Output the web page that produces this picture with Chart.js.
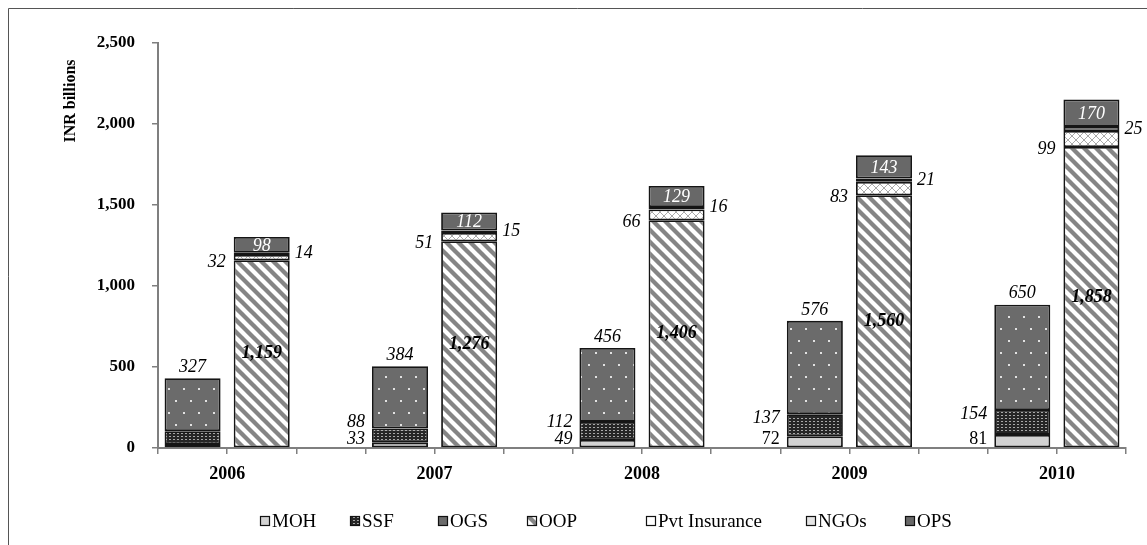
<!DOCTYPE html>
<html><head><meta charset="utf-8">
<script src="https://cdn.jsdelivr.net/npm/chart.js@4.4.0/dist/chart.umd.min.js"></script>
<style>html,body{margin:0;padding:0;background:#fff;}#wrap{position:relative;width:1147px;height:545px;}</style>
</head><body><div id="wrap"><canvas id="c" width="1147" height="545"></canvas></div>
<script>
// ---- data (INR billions) ----
const years   = ['2006','2007','2008','2009','2010'];
const moh     = [24, 33, 49, 72, 81];
const ssf     = [80, 88, 112, 137, 154];
const ogs     = [327, 384, 456, 576, 650];
const oop     = [1159, 1276, 1406, 1560, 1858];
const pvtIns  = [32, 51, 66, 83, 99];
const ngos    = [14, 15, 16, 21, 25];
const ops     = [98, 112, 129, 143, 170];
const seriesNames = ['MOH','SSF','OGS','OOP','Pvt Insurance','NGOs','OPS'];
const yTicks  = [0, 500, 1000, 1500, 2000, 2500];
const yTitle  = 'INR billions';

const SERIF = '"Liberation Serif","Times New Roman",serif';
const NSLOT = years.length * 3 - 1;
const slotLabels = Array.from({length: NSLOT}, (_, k) => (k % 3 === 0 ? years[k/3] : ''));
function slotData(arr, off){
  const d = new Array(NSLOT).fill(null);
  arr.forEach((v, i) => { d[3*i + off] = v; });
  return d;
}

// ---- patterns ----
function mk(w, h, fn){ const c = document.createElement('canvas'); c.width = w; c.height = h; const x = c.getContext('2d'); fn(x, w, h); return document.getElementById('c').getContext('2d').createPattern(c, 'repeat'); }
const pMOH = '#d2d2d2';
const pSSF = mk(4, 3, (x, w, h) => { x.fillStyle = '#262626'; x.fillRect(0,0,w,h); x.fillStyle = '#a8a8a8'; x.fillRect(1,1,2,1); });
const pOGS = mk(15, 24, (x, w, h) => { x.fillStyle = '#6b6b6b'; x.fillRect(0,0,w,h); x.fillStyle = '#e2e2e2'; x.fillRect(3,4,2,2); x.fillRect(10,16,2,2); });
const pOOP = mk(12, 12, (x, w, h) => { x.fillStyle = '#fff'; x.fillRect(0,0,w,h); x.strokeStyle = '#858585'; x.lineWidth = 4.3;
  for (const k of [-12, 0, 12]) { x.beginPath(); x.moveTo(k-2, -2); x.lineTo(k+14, 14); x.stroke(); } });
const pPVT = mk(8, 8, (x, w, h) => { x.fillStyle = '#fff'; x.fillRect(0,0,w,h); x.strokeStyle = '#a9a9a9'; x.lineWidth = 1;
  x.beginPath(); x.moveTo(0,0); x.lineTo(8,8); x.moveTo(8,0); x.lineTo(0,8); x.stroke(); });
const pNGO = '#f3f3f3';
const pOPS = '#686868';
const fills = [pMOH, pSSF, pOGS, pOOP, pPVT, pNGO, pOPS];
const legendFills = [pMOH, pSSF, '#6b6b6b', pOOP, '#ffffff', '#e4e4e4', pOPS];
const seriesVals = [moh, ssf, ogs, oop, pvtIns, ngos, ops];
const seriesOff = [0, 0, 0, 1, 1, 1, 1];

const datasets = seriesNames.map((n, k) => ({
  label: n, data: slotData(seriesVals[k], seriesOff[k]),
  backgroundColor: fills[k], borderColor: '#151515', borderWidth: 1.8, borderSkipped: false,
  barPercentage: 0.81, categoryPercentage: 1
}));

const fmt = v => Number(v).toLocaleString('en-US');

const framePlugin = {
  id: 'frame',
  beforeDraw(chart){ const c = chart.ctx; c.save(); c.fillStyle = '#fff'; c.fillRect(0,0,chart.width,chart.height);
    c.strokeStyle = '#555'; c.lineWidth = 1; c.beginPath(); c.moveTo(8.5, 545); c.lineTo(8.5, 8.5); c.lineTo(1147, 8.5); c.stroke(); c.restore(); },
  afterDraw(chart){
    const c = chart.ctx; c.save();
    c.translate(71, 101); c.rotate(-Math.PI/2); c.fillStyle = '#000'; c.font = 'bold 16px ' + SERIF;
    c.textAlign = 'center'; c.textBaseline = 'middle'; c.fillText(yTitle, 0, 0);
    c.restore();
    const lx = [260, 350, 438, 527, 646, 806, 905];
    c.save(); c.textBaseline = 'middle'; c.textAlign = 'left'; c.font = '19px ' + SERIF;
    seriesNames.forEach((n, k) => {
      const x = lx[k], y = 521;
      c.fillStyle = legendFills[k]; c.fillRect(x, y-5, 10, 10);
      c.strokeStyle = '#111'; c.lineWidth = 1.2; c.strokeRect(x+0.5, y-4.5, 9, 9);
      c.fillStyle = '#000'; c.fillText(n, x + 12, y + 1);
    });
    c.restore();
  }
};

const labelPlugin = {
  id: 'vlabels',
  afterDatasetsDraw(chart){
    const c = chart.ctx;
    const el = (d, slot) => chart.getDatasetMeta(d).data[slot].getProps(['x','y','base','width'], true);
    c.save(); c.textBaseline = 'middle';
    const it = '18px ' + SERIF;
    years.forEach((yr, i) => {
      const a = 3*i, b = 3*i + 1;
      const m = el(0,a), s = el(1,a), g = el(2,a), o = el(3,b), p = el(4,b), n = el(5,b), q = el(6,b);
      const leftA = m.x - m.width/2, leftB = o.x - o.width/2, rightB = o.x + o.width/2;
      c.fillStyle = '#000';
      if (i > 0) {
        c.textAlign = 'right';
        c.font = (i < 3 ? 'italic ' : '') + it; c.fillText(fmt(moh[i]), leftA - 7, m.base - 8);
        c.font = 'italic ' + it; c.fillText(fmt(ssf[i]), leftA - 7, Math.min(s.y + 4, m.base - 25));
      }
      c.textAlign = 'center'; c.font = 'italic ' + it; c.fillText(fmt(ogs[i]), g.x, g.y - 11);
      c.font = 'italic bold ' + it; c.fillText(fmt(oop[i]), o.x, (o.y + o.base)/2);
      c.textAlign = 'right'; c.font = 'italic ' + it; c.fillText(fmt(pvtIns[i]), leftB - 8, p.base + 2);
      c.textAlign = 'left'; c.fillText(fmt(ngos[i]), rightB + 5, n.base - 2);
      c.textAlign = 'center'; c.fillStyle = '#fff'; c.fillText(fmt(ops[i]), q.x, (q.y + q.base)/2 + 1);
    });
    c.restore();
  }
};

new Chart(document.getElementById('c'), {
  type: 'bar',
  data: { labels: slotLabels, datasets },
  options: {
    responsive: false, animation: false, devicePixelRatio: 1,
    layout: { padding: { left: 0, right: 21, top: 43, bottom: 51 } },
    plugins: { legend: { display: false }, tooltip: { enabled: false } },
    scales: {
      x: { type: 'category', stacked: true, offset: true,
        grid: { display: true, offset: true, drawOnChartArea: false, drawTicks: true, tickLength: 6, color: '#7f7f7f', lineWidth: 1.5 },
        border: { display: true, color: '#7f7f7f', width: 2 },
        ticks: { display: true, autoSkip: false, maxRotation: 0, labelOffset: 34.6, padding: 10,
          font: { family: SERIF, size: 18, weight: 'bold' }, color: '#000' },
        afterFit: s => { s.height = 46; } },
      y: { stacked: true, min: 0, max: 2500,
        afterBuildTicks: s => { s.ticks = yTicks.map(v => ({ value: v })); },
        ticks: { font: { family: SERIF, size: 17, weight: 'bold' }, color: '#000', padding: 17, callback: v => fmt(v) },
        grid: { display: true, drawOnChartArea: false, drawTicks: true, tickLength: 6, color: '#7f7f7f', lineWidth: 1.5 },
        border: { display: true, color: '#7f7f7f', width: 2 },
        afterFit: s => { s.width = 158; } }
    }
  },
  plugins: [framePlugin, labelPlugin]
});
</script></body></html>
